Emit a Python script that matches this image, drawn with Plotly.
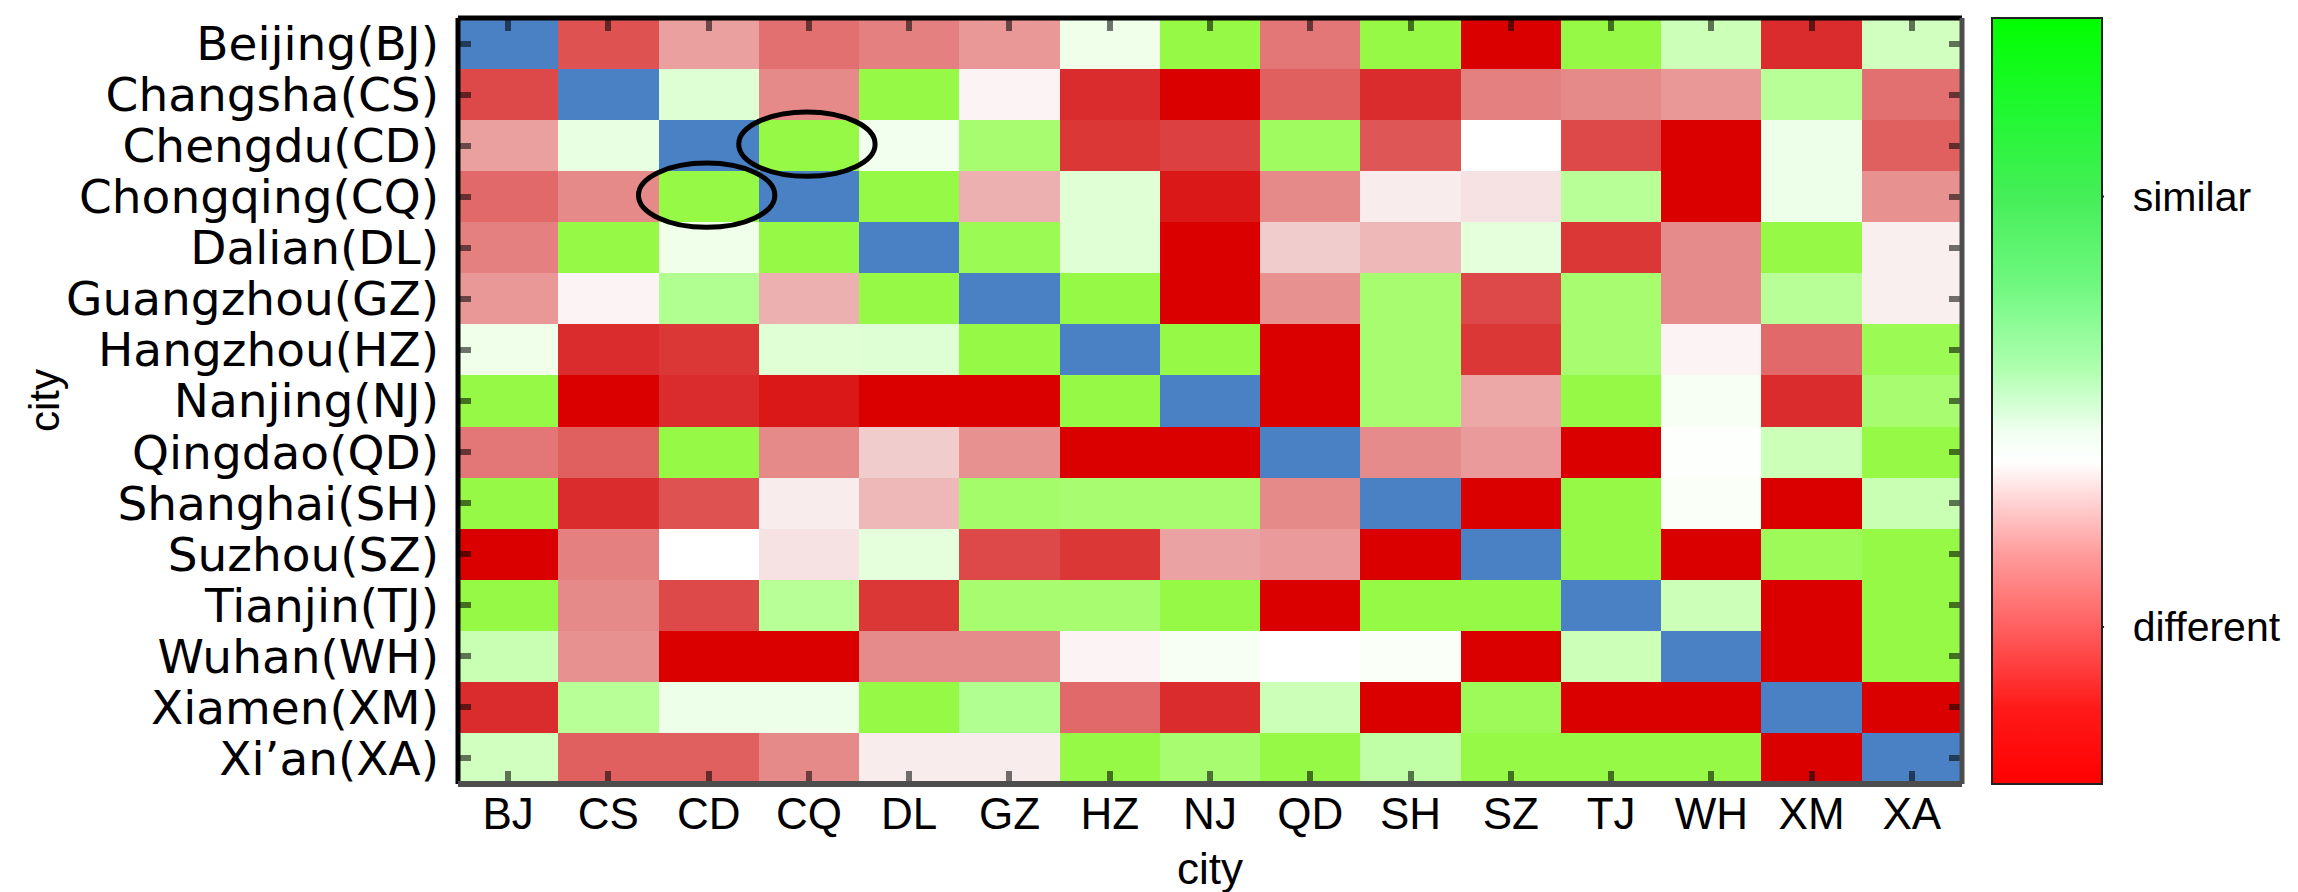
import plotly.graph_objects as go

# ---------------- data ----------------
cities = ["Beijing(BJ)", "Changsha(CS)", "Chengdu(CD)", "Chongqing(CQ)", "Dalian(DL)",
          "Guangzhou(GZ)", "Hangzhou(HZ)", "Nanjing(NJ)", "Qingdao(QD)", "Shanghai(SH)",
          "Suzhou(SZ)", "Tianjin(TJ)", "Wuhan(WH)", "Xiamen(XM)", "Xi’an(XA)"]
codes = ["BJ", "CS", "CD", "CQ", "DL", "GZ", "HZ", "NJ", "QD", "SH", "SZ", "TJ", "WH", "XM", "XA"]

# similarity (-1 = different, +1 = similar); None = the city itself (diagonal)
row_BJ = [None, -0.70, -0.35, -0.57, -0.50, -0.39, 0.06, 1.00, -0.54, 1.00, -1.00, 1.00, 0.27, -0.84, 0.24]
row_CS = [-0.74, None, 0.16, -0.46, 1.00, -0.03, -0.84, -1.00, -0.64, -0.84, -0.50, -0.46, -0.39, 0.42, -0.57]
row_CD = [-0.35, 0.10, None, 1.00, 0.05, 0.68, -0.80, -0.77, 0.80, -0.68, 0.00, -0.74, -1.00, 0.07, -0.64]
row_CQ = [-0.60, -0.46, 1.00, None, 1.00, -0.28, 0.15, -0.92, -0.46, -0.06, -0.10, 0.42, -1.00, 0.07, -0.42]
row_DL = [-0.50, 1.00, 0.06, 1.00, None, 0.90, 0.15, -1.00, -0.18, -0.25, 0.12, -0.80, -0.45, 1.00, -0.05]
row_GZ = [-0.39, -0.03, 0.48, -0.28, 1.00, None, 1.00, -1.00, -0.42, 0.68, -0.74, 0.68, -0.45, 0.42, -0.05]
row_HZ = [0.06, -0.84, -0.80, 0.15, 0.16, 1.00, None, 1.00, -1.00, 0.68, -0.80, 0.68, -0.03, -0.60, 0.90]
row_NJ = [1.00, -1.00, -0.84, -0.92, -1.00, -1.00, 1.00, None, -1.00, 0.68, -0.32, 1.00, 0.03, -0.84, 0.68]
row_QD = [-0.54, -0.64, 1.00, -0.46, -0.18, -0.42, -1.00, -1.00, None, -0.45, -0.38, -1.00, 0.01, 0.27, 1.00]
row_SH = [1.00, -0.84, -0.70, -0.06, -0.25, 0.72, 0.68, 0.68, -0.46, None, -1.00, 1.00, 0.02, -1.00, 0.30]
row_SZ = [-1.00, -0.50, 0.00, -0.10, 0.12, -0.74, -0.80, -0.34, -0.38, -1.00, None, 1.00, -1.00, 0.86, 1.00]
row_TJ = [1.00, -0.46, -0.74, 0.42, -0.80, 0.68, 0.68, 1.00, -1.00, 1.00, 1.00, None, 0.27, -1.00, 1.00]
row_WH = [0.30, -0.42, -1.00, -1.00, -0.45, -0.45, -0.03, 0.03, 0.00, 0.02, -1.00, 0.27, None, -1.00, 1.00]
row_XM = [-0.84, 0.42, 0.07, 0.07, 1.00, 0.48, -0.60, -0.84, 0.27, -1.00, 0.86, -1.00, -1.00, None, -1.00]
row_XA = [0.24, -0.64, -0.64, -0.46, -0.06, -0.06, 1.00, 0.68, 1.00, 0.35, 1.00, 1.00, 1.00, -1.00, None]

similarity = [row_BJ, row_CS, row_CD, row_CQ, row_DL, row_GZ, row_HZ, row_NJ,
              row_QD, row_SH, row_SZ, row_TJ, row_WH, row_XM, row_XA]

# highlighted pairs (row city, column code)
highlights = [("Chongqing(CQ)", "CD"), ("Chengdu(CD)", "CQ")]

colorbar_labels = ["different", "similar"]
colorbar_levels = [0.205, 0.767]

axis_title = "city"

# ---------------- styling / layout ----------------
W, H = 2298, 892
L, R, T, B = 450, 344, 8, 116
PLOT_W = W - L - R
CB_X = 1.02          # colorbar left edge, fraction of plot width
CB_THICK = 110       # colorbar thickness, px
FONT = "Liberation Sans, Arial, sans-serif"
YFONT = "DejaVu Sans, Liberation Sans, sans-serif"

cell_scale = [
    [0.0, "#DB0000"], [0.04, "#DA1818"], [0.08, "#DA2C2C"], [0.13, "#DD4848"],
    [0.18, "#E06060"], [0.25, "#E48080"], [0.325, "#EBA0A0"], [0.36, "#EDB0B0"],
    [0.41, "#F0CCCC"], [0.45, "#F6E2E2"], [0.485, "#FCF4F4"], [0.5, "#FFFFFF"],
    [0.53, "#EFFFEA"], [0.575, "#E0FFD5"], [0.635, "#CCFFB8"], [0.71, "#B8FF98"],
    [0.74, "#B0FF90"], [0.84, "#A8FC70"], [0.9, "#A0FB60"], [1.0, "#96F946"],
]

bar_scale = [
    [0.0, "#FF0000"], [0.1, "#FF1A1A"], [0.205, "#FF6060"], [0.3, "#FF9C9C"],
    [0.37, "#FFD4D4"], [0.42, "#FFFFFF"], [0.46, "#F0FFF0"], [0.54, "#B0FFB0"],
    [0.65, "#70F880"], [0.767, "#45EE58"], [0.88, "#20F830"], [1.0, "#00FF00"],
]

diag_mask = [[1 if cities[i][-3:-1] == codes[j] else None for j in range(len(codes))]
             for i in range(len(cities))]

fig = go.Figure()

fig.add_trace(go.Heatmap(
    x=codes, y=cities, z=similarity, zmin=-1, zmax=1,
    colorscale=cell_scale, showscale=False, hoverongaps=False,
))
fig.add_trace(go.Heatmap(
    x=codes, y=cities, z=diag_mask, zmin=0, zmax=1,
    colorscale=[[0, "#4A80C4"], [1, "#4A80C4"]], showscale=False, hoverongaps=False,
))

# colorbar-only trace
fig.add_trace(go.Scatter(
    x=[None], y=[None], mode="markers", showlegend=False, hoverinfo="skip",
    marker=dict(
        color=[0.5], cmin=0, cmax=1, colorscale=bar_scale, showscale=True,
        colorbar=dict(
            x=CB_X, xanchor="left", y=0.5, yanchor="middle",
            len=1.0, lenmode="fraction", thickness=CB_THICK, thicknessmode="pixels",
            xpad=0, ypad=0, outlinewidth=2, outlinecolor="#222222",
            ticks="outside", ticklen=22, tickwidth=1, tickcolor="rgba(0,0,0,0)",
            tickvals=colorbar_levels, ticktext=colorbar_labels,
            tickfont=dict(family=FONT, size=41, color="black"),
        ),
    ),
))

# inner tick marks on both edges of the colorbar
cb_left = CB_X + 2 / PLOT_W
cb_right = CB_X + (CB_THICK + 2) / PLOT_W
tick_w = 10 / PLOT_W
for lev in colorbar_levels:
    fig.add_shape(type="line", xref="paper", yref="paper",
                  x0=cb_left, x1=cb_left + tick_w, y0=lev, y1=lev,
                  line=dict(color="#222222", width=2))
    fig.add_shape(type="line", xref="paper", yref="paper",
                  x0=cb_right - tick_w, x1=cb_right, y0=lev, y1=lev,
                  line=dict(color="#222222", width=2))

# ellipses around highlighted cells
for rcity, ccode in highlights:
    ri = cities.index(rcity)
    ci = codes.index(ccode)
    fig.add_shape(type="circle", xref="x", yref="y",
                  x0=ci - 0.7, x1=ci + 0.66, y0=ri - 0.66, y1=ri + 0.6,
                  line=dict(color="black", width=5))

# frame
fig.add_shape(type="line", xref="paper", yref="paper", x0=0, x1=0, y0=0, y1=1,
              line=dict(color="black", width=5))
fig.add_shape(type="line", xref="paper", yref="paper", x0=0, x1=1, y0=1, y1=1,
              line=dict(color="black", width=5))
fig.add_shape(type="line", xref="paper", yref="paper", x0=1, x1=1, y0=0, y1=1,
              line=dict(color="#4d4d4d", width=5))
fig.add_shape(type="line", xref="paper", yref="paper", x0=0, x1=1, y0=0, y1=0,
              line=dict(color="#4d4d4d", width=6))

axis_common = dict(
    showgrid=False, zeroline=False, showline=False, mirror="ticks",
    ticks="inside", ticklen=13, tickwidth=6, tickcolor="rgba(0,0,0,0.55)",
)

fig.update_xaxes(**axis_common, tickmode="array", tickvals=codes, ticktext=codes,
                 tickfont=dict(family=FONT, size=44, color="black"),
                 title=dict(text=axis_title, standoff=16,
                            font=dict(family=FONT, size=44, color="black")))
fig.update_yaxes(**axis_common, autorange="reversed", tickmode="array",
                 tickvals=cities, ticktext=cities, ticklabelstandoff=18,
                 tickfont=dict(family=YFONT, size=47, color="black"))

# y-axis title placed at the far left, as in the reference
fig.add_annotation(text=axis_title, textangle=-90, xref="paper", yref="paper",
                   x=(36 - L) / PLOT_W, y=0.5, xanchor="center", yanchor="middle",
                   showarrow=False, font=dict(family=FONT, size=42, color="black"))

fig.update_layout(
    width=W, height=H, autosize=False,
    margin=dict(l=L, r=R, t=T, b=B, pad=0),
    paper_bgcolor="white", plot_bgcolor="white",
    font=dict(family=FONT, size=44, color="black"),
)

fig.write_html("out.html")
